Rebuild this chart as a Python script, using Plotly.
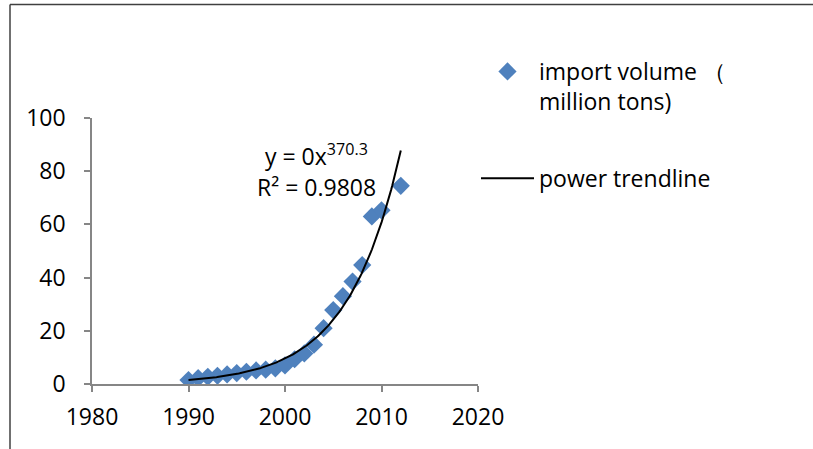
import numpy as np
import plotly.graph_objects as go

# Import volume by year (million tons)
years = [1990, 1991, 1992, 1993, 1994, 1995, 1996, 1997, 1998, 1999, 2000,
         2001, 2002, 2003, 2004, 2005, 2006, 2007, 2008, 2009, 2010, 2012]
volume = [1.5, 2.2, 2.7, 3.1, 3.6, 4.1, 4.6, 5.1, 5.4, 5.9, 7.0,
          9.3, 11.5, 14.8, 21.0, 27.8, 33.0, 38.5, 44.7, 63.0, 65.3, 74.5]

# Power trendline y = a * x^b with the reported exponent
b_exp = 370.3
r_squared = 0.9808
x_ticks = [1980, 1990, 2000, 2010, 2020]
y_ticks = [0, 20, 40, 60, 80, 100]

xs = np.array(years, dtype=float)
ys = np.array(volume, dtype=float)
log_a = np.mean(np.log(ys) - b_exp * np.log(xs))
trend_x = np.linspace(xs.min(), xs.max(), 200)
trend_y = np.exp(log_a + b_exp * np.log(trend_x))

FONT = "Open Sans"
FS = 23
W, H = 813, 449
ML, MR, MT, MB = 92, 335, 118, 65
pw, ph = W - ML - MR, H - MT - MB


def px_x(p):
    return (p - ML) / pw


def px_y(p):
    return (H - MB - p) / ph


fig = go.Figure()
fig.add_trace(go.Scatter(
    x=years, y=volume, mode="markers",
    name="import volume （<br>million tons)",
    legendgroup="a",
    marker=dict(symbol="diamond", size=14, color="#4F81BD"),
))
fig.add_trace(go.Scatter(
    x=trend_x, y=trend_y, mode="lines",
    name="power trendline",
    legendgroup="b",
    line=dict(color="black", width=2),
))

axis_common = dict(
    showgrid=False, zeroline=False, showline=True,
    linecolor="#868686", linewidth=1.5,
    ticks="outside", ticklen=6, tickcolor="#868686", tickwidth=1.5,
    tickfont=dict(family=FONT, size=FS, color="black"),
)

fig.update_layout(
    width=W, height=H,
    margin=dict(l=ML, r=MR, t=MT, b=MB),
    paper_bgcolor="white", plot_bgcolor="white",
    xaxis=dict(range=[1980, 2020], tickvals=x_ticks, ticklabelstandoff=6,
               **axis_common),
    yaxis=dict(range=[0, 100], tickvals=y_ticks, ticklabelstandoff=14,
               **axis_common),
    showlegend=True,
    legend=dict(
        x=px_x(476), y=px_y(50), xanchor="left", yanchor="top",
        font=dict(family=FONT, size=FS, color="black"),
        valign="top", tracegroupgap=44, traceorder="grouped",
        itemwidth=53,
        bgcolor="rgba(0,0,0,0)",
    ),
    annotations=[
        dict(x=px_x(316), y=px_y(155), xref="paper", yref="paper",
             xanchor="center", yanchor="middle",
             text="y = 0x<sup>%.1f</sup>" % b_exp, showarrow=False,
             font=dict(family=FONT, size=FS, color="black")),
        dict(x=px_x(316), y=px_y(187), xref="paper", yref="paper",
             xanchor="center", yanchor="middle",
             text="R² = %.4f" % r_squared, showarrow=False,
             font=dict(family=FONT, size=FS, color="black")),
    ],
    shapes=[
        dict(type="line", xref="paper", yref="paper",
             x0=px_x(10), x1=px_x(W + 2), y0=px_y(4.5), y1=px_y(4.5),
             line=dict(color="#404040", width=1.5)),
        dict(type="line", xref="paper", yref="paper",
             x0=px_x(10), x1=px_x(10), y0=px_y(4.5), y1=px_y(H + 2),
             line=dict(color="#404040", width=1.5)),
    ],
)

fig.write_html("out.html")
